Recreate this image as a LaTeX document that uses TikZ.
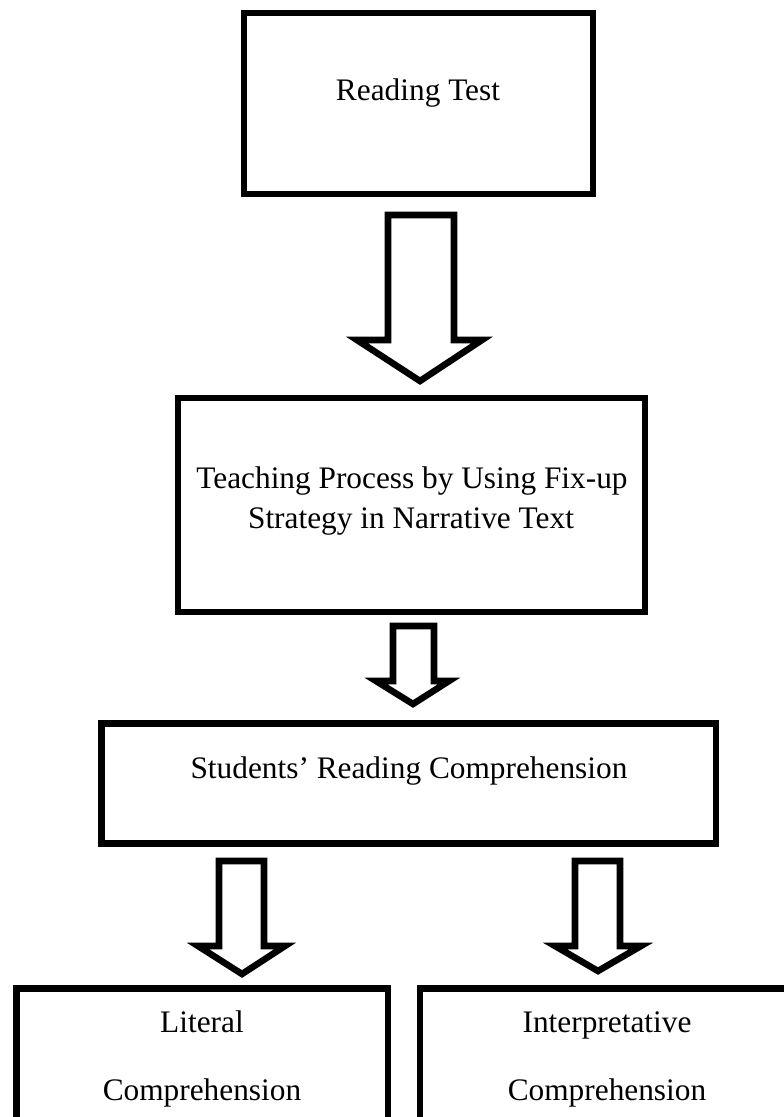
\documentclass[tikz,border=0pt]{standalone}
\usepackage{fontspec}
\setmainfont{Liberation Serif}
\begin{document}
\begin{tikzpicture}[x=0.75pt,y=-0.75pt,
  boxstyle/.style={draw=black, line width=4.9pt, line join=miter, inner sep=0pt},
  lbl/.style={font=\fontsize{23.5}{28}\selectfont, anchor=base, inner sep=0pt},
  barrow/.style={draw=black, fill=white, line width=4.9pt, line join=miter}]
\useasboundingbox (0,0) rectangle (783,1117);
% boxes
\node[boxstyle, minimum width=349*0.75pt, minimum height=181*0.75pt] (b1) at (418.5,103.5) {};
\node[boxstyle, minimum width=467*0.75pt, minimum height=214*0.75pt] (b2) at (411.5,505) {};
\node[boxstyle, minimum width=614.5*0.75pt, minimum height=120*0.75pt] (b3) at (408.75,783.5) {};
\node[boxstyle, minimum width=371.5*0.75pt, minimum height=151.5*0.75pt] (b4) at (202.25,1064.25) {};
\node[boxstyle, minimum width=375*0.75pt, minimum height=151.5*0.75pt] (b5) at (607.5,1064.25) {};
% texts
\node[lbl] (t1) at (418,100) {Reading Test};
\node[lbl] (t2a) at (412,488) {Teaching Process by Using Fix-up};
\node[lbl] (t2b) at (411,528) {Strategy in Narrative Text};
\node[lbl] (t3) at (409,778) {Students’ Reading Comprehension};
\node[lbl] (t4a) at (202,1032) {Literal};
\node[lbl] (t4b) at (202,1100) {Comprehension};
\node[lbl] (t5a) at (607,1032) {Interpretative};
\node[lbl] (t5b) at (607,1100) {Comprehension};
% block arrows
\draw[barrow] (388,215) -- (454,215) -- (454,340) -- (482,340) -- (420,381) -- (357,340) -- (388,340) -- cycle;
\draw[barrow] (393,626) -- (434,626) -- (434,681) -- (449,681) -- (413,704) -- (376,681) -- (393,681) -- cycle;
\draw[barrow] (219,861) -- (264,861) -- (264,946) -- (285,946) -- (242,974) -- (198,946) -- (219,946) -- cycle;
\draw[barrow] (575,861) -- (620,861) -- (620,946) -- (641,946) -- (598,971) -- (555,946) -- (575,946) -- cycle;
\end{tikzpicture}
\end{document}
